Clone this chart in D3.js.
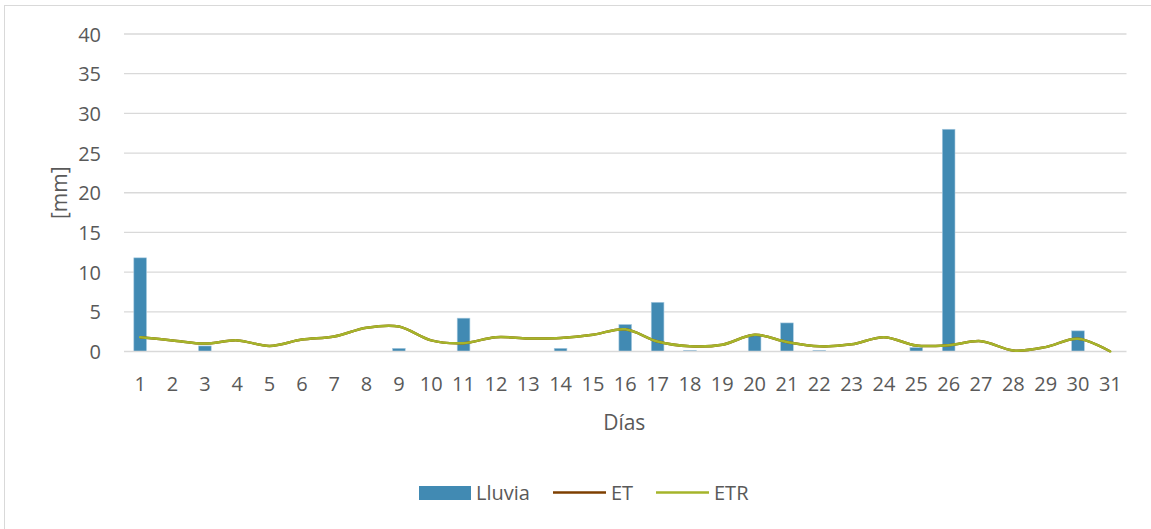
<!DOCTYPE html>
<html><head><meta charset="utf-8">
<script src="https://cdn.jsdelivr.net/npm/d3@7"></script>
<style>
html,body{margin:0;padding:0;background:#fff;}
text{font-family:"Open Sans","Liberation Sans",sans-serif;fill:#595959;}
</style></head>
<body>
<svg id="chart" width="1151" height="529"></svg>
<script>
const dias = d3.range(1, 32).map(String);
const lluvia = [11.8,0,0.7,0,0,0,0,0,0.4,0,4.2,0,0,0.4,0,3.4,6.2,0.15,0,2.1,3.6,0.15,0,0,0.5,28,0,0,0,2.6,0];
const et  = [1.8,1.4,1.0,1.4,0.7,1.5,1.9,3.0,3.15,1.4,1.05,1.8,1.65,1.7,2.1,2.8,1.25,0.65,0.85,2.1,1.2,0.65,0.9,1.8,0.75,0.8,1.3,0.13,0.55,1.6,0];
const etr = [1.8,1.4,1.0,1.4,0.7,1.5,1.9,3.0,3.15,1.4,1.05,1.8,1.65,1.7,2.1,2.8,1.25,0.65,0.85,2.1,1.2,0.65,0.9,1.8,0.75,0.8,1.3,0.13,0.55,1.6,0];
const yTicks = [0,5,10,15,20,25,30,35,40];
const seriesNames = ["Lluvia","ET","ETR"];

const FS = 20;
const svg = d3.select("#chart");
const m = {left:124, right:1126.5, top:34, bottom:351.5};

// chart border
svg.append("rect").attr("x",4.5).attr("y",5.5).attr("width",1160).attr("height",540)
  .attr("fill","none").attr("stroke","#d9d9d9").attr("stroke-width",1);

const x = d3.scaleBand().domain(dias).range([m.left, m.right]).paddingInner(0).paddingOuter(0);
const y = d3.scaleLinear().domain([0,40]).range([m.bottom, m.top]);

// gridlines
svg.append("g").selectAll("line").data(yTicks.filter(d=>d>0)).join("line")
  .attr("x1",m.left).attr("x2",m.right)
  .attr("y1",d=>y(d)).attr("y2",d=>y(d))
  .attr("stroke","#d9d9d9").attr("stroke-width",1.3);

// y axis labels
const yAxis = d3.axisLeft(y).tickValues(yTicks).tickSize(0).tickPadding(0);
const gy = svg.append("g").attr("transform",`translate(${m.left-23},0)`).call(yAxis);
gy.select(".domain").remove();
gy.selectAll("text").attr("font-size",FS).attr("fill","#595959")
  .style("font-family","'Open Sans','Liberation Sans',sans-serif").attr("dy","0.35em");

// bars
const bw = 12.7;
svg.append("g").selectAll("rect").data(lluvia).join("rect")
  .attr("x",(d,i)=>x(dias[i]) + x.bandwidth()/2 - bw/2)
  .attr("width",bw)
  .attr("y",d=>y(d))
  .attr("height",d=>m.bottom - y(d))
  .attr("fill","#418AB3")
  .attr("stroke","#a9cbe0").attr("stroke-width",0.6);

// x axis line
svg.append("line").attr("x1",m.left).attr("x2",m.right)
  .attr("y1",y(0)).attr("y2",y(0)).attr("stroke","#d9d9d9").attr("stroke-width",1.5);

// lines
const line = d3.line()
  .x((d,i)=>x(dias[i]) + x.bandwidth()/2)
  .y(d=>y(d))
  .curve(d3.curveCardinal.tension(0));
svg.append("path").datum(et).attr("d",line).attr("fill","none")
  .attr("stroke","#7E3F00").attr("stroke-width",2.5);
svg.append("path").datum(etr).attr("d",line).attr("fill","none")
  .attr("stroke","#A5B42A").attr("stroke-width",2.5).attr("stroke-linecap","round");

// x axis labels
const xAxis = d3.axisBottom(x).tickSize(0).tickPadding(0);
const gx = svg.append("g").attr("transform",`translate(0,${m.bottom})`).call(xAxis);
gx.select(".domain").remove();
gx.selectAll("text").attr("font-size",FS).attr("fill","#595959")
  .style("font-family","'Open Sans','Liberation Sans',sans-serif").attr("y",0).attr("dy","39");

// axis titles
svg.append("text").attr("x",(m.left+m.right)/2 - 1).attr("y",430)
  .attr("text-anchor","middle").attr("font-size",FS+1).text("Días");
svg.append("text").attr("transform",`translate(67,${(m.top+m.bottom)/2}) rotate(-90)`)
  .attr("text-anchor","middle").attr("font-size",FS+1).text("[mm]");

// legend
const lg = svg.append("g");
lg.append("rect").attr("x",419).attr("y",486).attr("width",52).attr("height",14).attr("fill","#418AB3");
lg.append("text").attr("x",476).attr("y",500).attr("font-size",FS).text(seriesNames[0]);
lg.append("line").attr("x1",553).attr("x2",606).attr("y1",492.5).attr("y2",492.5)
  .attr("stroke","#7E3F00").attr("stroke-width",2.5);
lg.append("text").attr("x",611).attr("y",500).attr("font-size",FS).text(seriesNames[1]);
lg.append("line").attr("x1",656).attr("x2",709).attr("y1",492.5).attr("y2",492.5)
  .attr("stroke","#A5B42A").attr("stroke-width",2.5);
lg.append("text").attr("x",714).attr("y",500).attr("font-size",FS).text(seriesNames[2]);
</script>
</body></html>
